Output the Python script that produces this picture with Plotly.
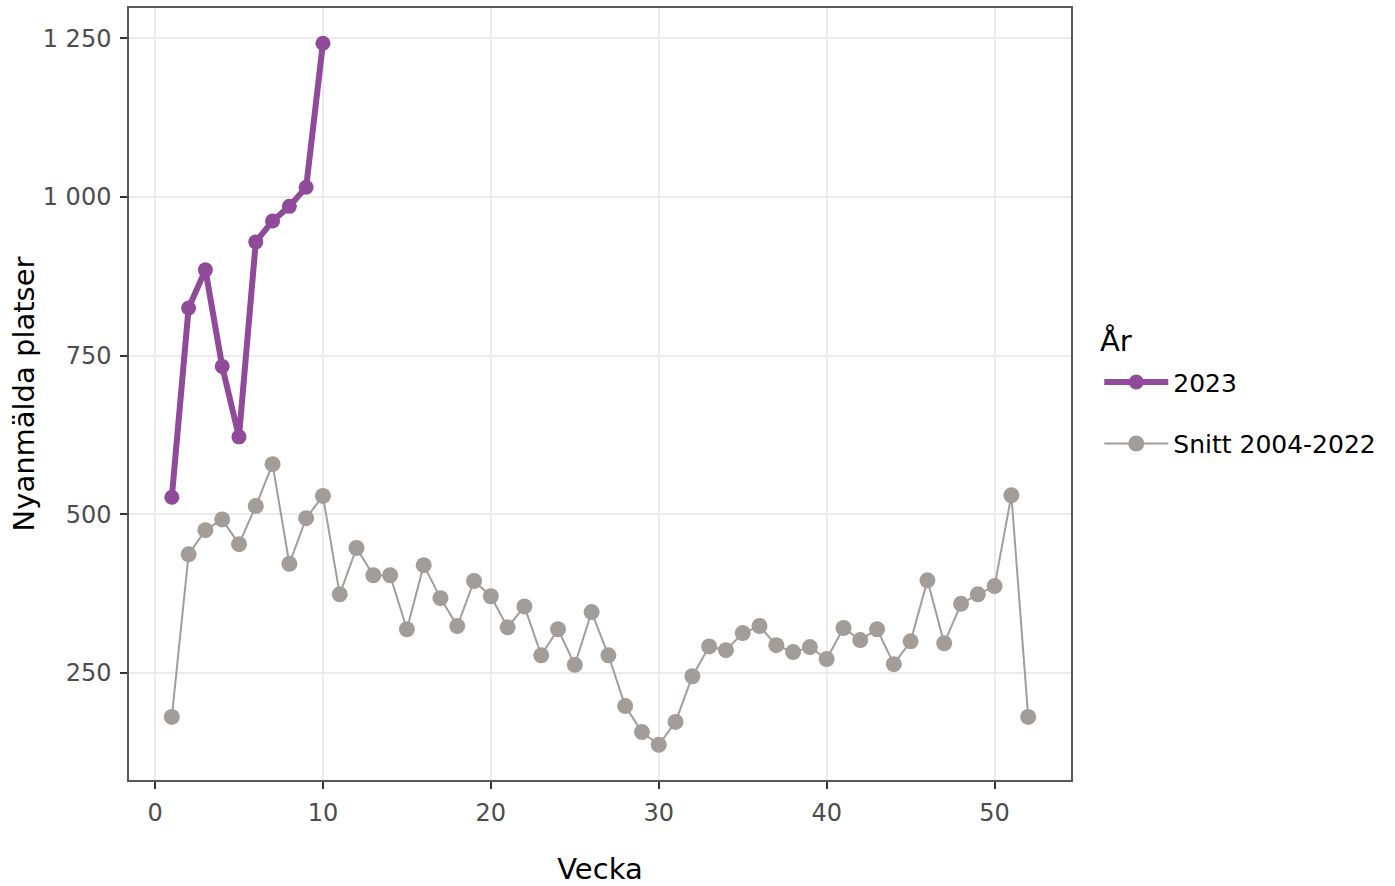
import plotly.graph_objects as go

weeks_2023 = list(range(1, 11))
values_2023 = [527, 825, 885, 733, 622, 929, 962, 985, 1015, 1242]

weeks_avg = list(range(1, 53))
values_avg = [181, 437, 475, 492, 453, 513, 579, 422, 494, 529,
              374, 447, 404, 404, 319, 420, 368, 324, 395, 371,
              322, 355, 278, 319, 263, 346, 278, 198, 157, 137,
              173, 245, 292, 286, 313, 324, 294, 283, 291, 272,
              321, 302, 319, 264, 300, 396, 297, 359, 374, 387,
              530, 181]

y_ticks = [250, 500, 750, 1000, 1250]
y_ticktext = ["250", "500", "750", "1 000", "1 250"]
x_ticks = [0, 10, 20, 30, 40, 50]

FONT = "Verdana, DejaVu Sans, sans-serif"
purple = "#8f4a99"
grey = "#a29d98"

fig = go.Figure()
fig.add_trace(go.Scatter(
    x=weeks_2023, y=values_2023, mode="lines+markers", name="2023",
    line=dict(color=purple, width=6), marker=dict(color=purple, size=15),
    legendgroup="a"))
fig.add_trace(go.Scatter(
    x=weeks_avg, y=values_avg, mode="lines+markers", name="Snitt 2004-2022",
    line=dict(color=grey, width=2), marker=dict(color=grey, size=16),
    legendgroup="b"))

axis_common = dict(
    showgrid=True, gridcolor="#ebebeb", gridwidth=2,
    zeroline=False, showline=True, linecolor="#595959", linewidth=1.5,
    mirror=True, ticks="outside", ticklen=7, tickcolor="#333333", tickwidth=2,
    tickfont=dict(family=FONT, size=24, color="#4d4d4d"),
    automargin=False,
)

fig.update_layout(
    width=1395, height=886,
    paper_bgcolor="white", plot_bgcolor="white",
    margin=dict(l=129, r=324, t=8, b=106),
    font=dict(family=FONT, color="black"),
    xaxis=dict(range=[-1.55, 54.55], tickvals=x_ticks, ticklabelstandoff=3,
               title=dict(text="Vecka", font=dict(family=FONT, size=29), standoff=33),
               **axis_common),
    yaxis=dict(range=[81.6, 1297.4], tickvals=y_ticks, ticktext=y_ticktext, ticklabelstandoff=4,
               title=dict(text="Nyanmälda platser", font=dict(family=FONT, size=29), standoff=0),
               **axis_common),
    legend=dict(
        font=dict(family=FONT, size=25, color="black"),
        x=1.03, xanchor="left", y=0.545, yanchor="top",
        tracegroupgap=26, itemwidth=64, bgcolor="rgba(0,0,0,0)",
    ),
    showlegend=True,
    annotations=[dict(text="År", xref="paper", yref="paper", x=1.029, y=(780 - 341) / 772,
                      xanchor="left", yanchor="middle", showarrow=False,
                      font=dict(family=FONT, size=29, color="black"))],
)

fig.write_html("out.html", config={"displayModeBar": False},
               post_script="document.body.style.margin='0';document.body.style.overflow='hidden';")
